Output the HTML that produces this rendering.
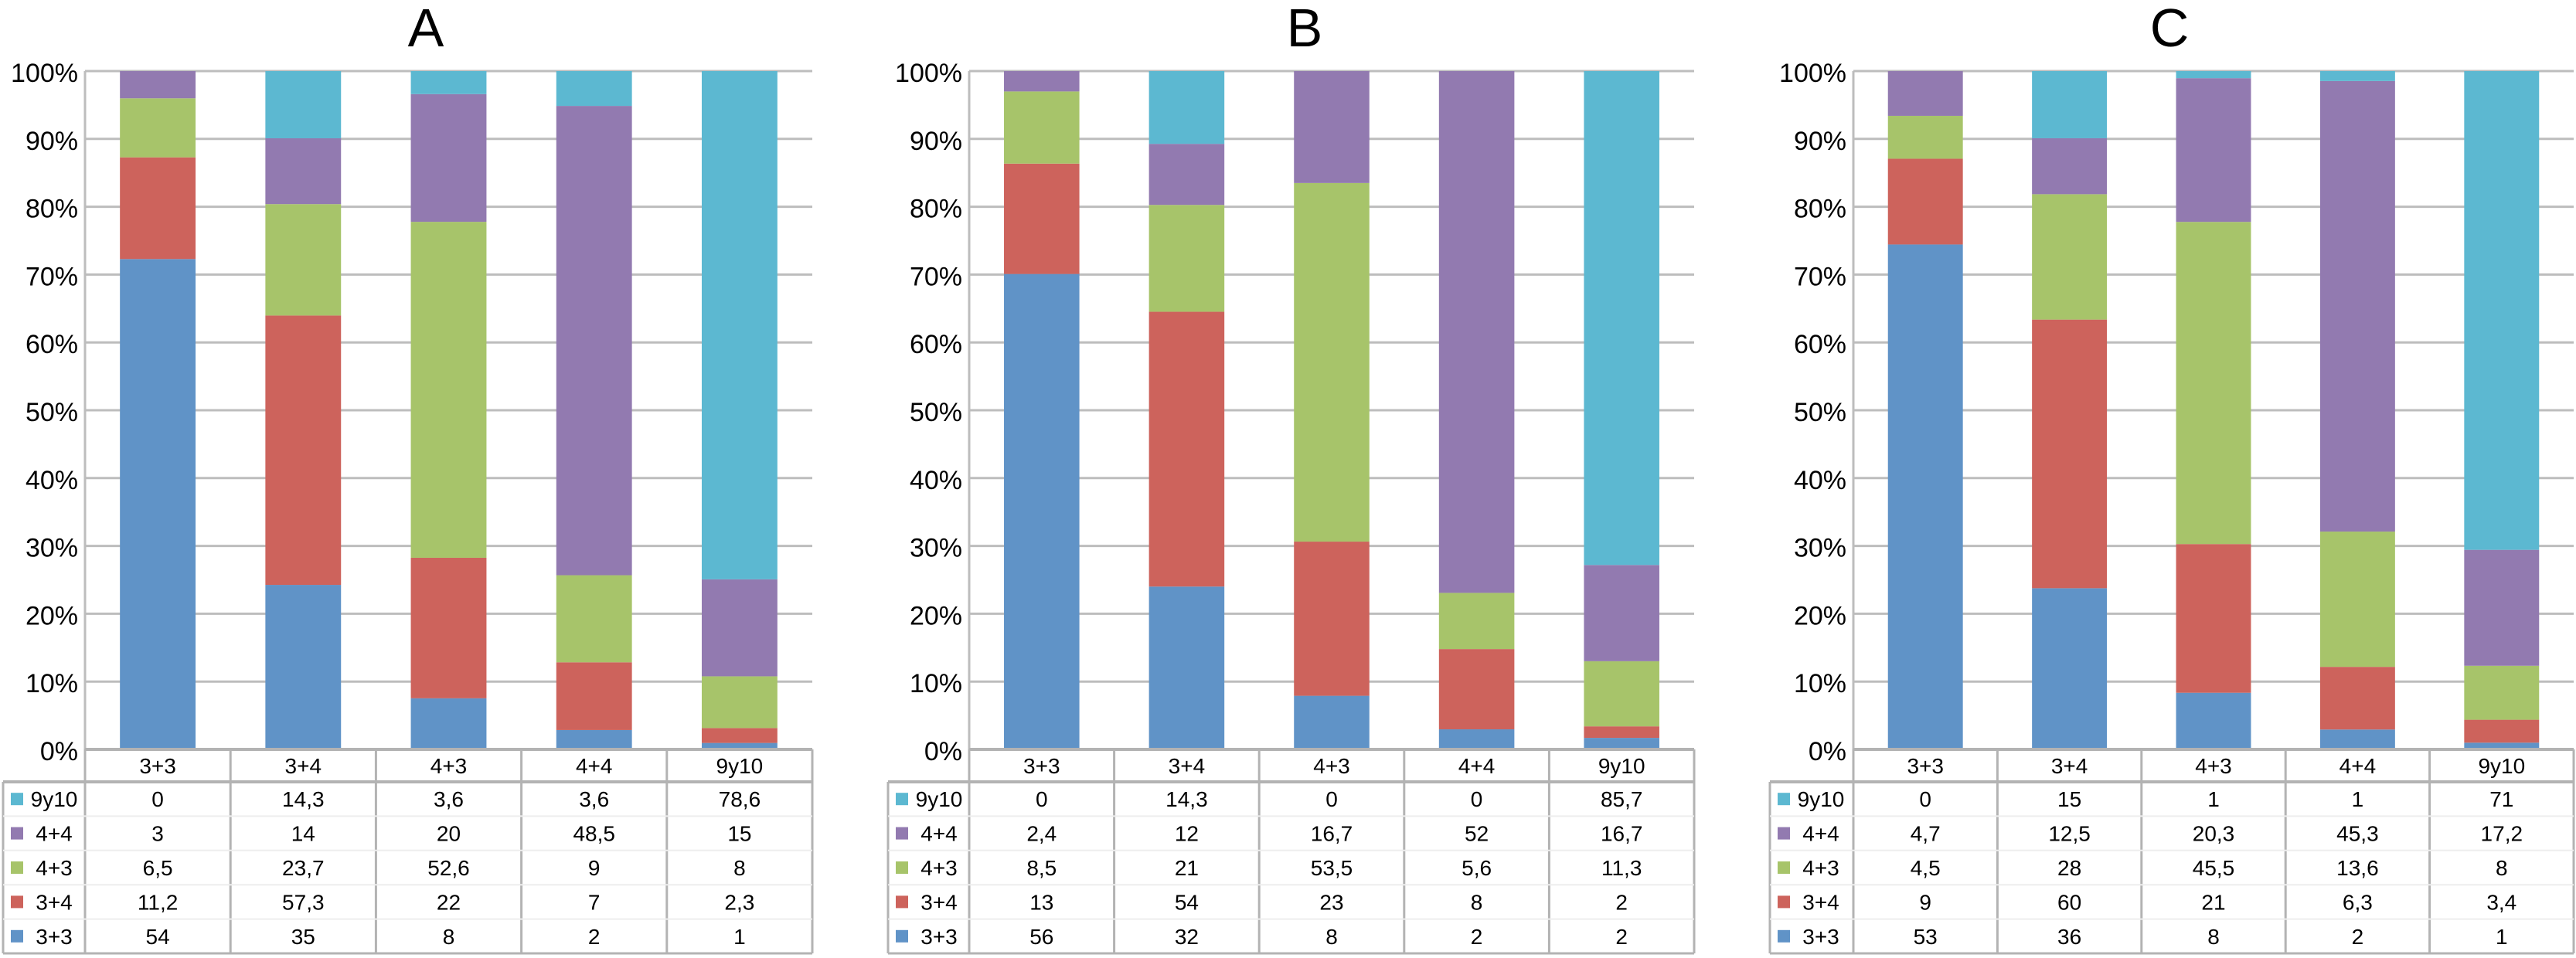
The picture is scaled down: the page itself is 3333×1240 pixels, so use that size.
<!DOCTYPE html>
<html><head><meta charset="utf-8">
<style>
html,body{margin:0;padding:0;background:#fff;}
svg{display:block;font-family:"Liberation Sans",Arial,sans-serif;}
</style></head>
<body>
<svg id="chart" width="3333" height="1240" viewBox="0 0 3333 1240" xmlns="http://www.w3.org/2000/svg"></svg>
<script>
// ---- data ----
const categories = ["3+3","3+4","4+3","4+4","9y10"];
const seriesNames = ["3+3","3+4","4+3","4+4","9y10"];
const panelTitles = ["A","B","C"];
// values per panel: [series][category]
const A_s33 = [54,35,8,2,1];
const A_s34 = [11.2,57.3,22,7,2.3];
const A_s43 = [6.5,23.7,52.6,9,8];
const A_s44 = [3,14,20,48.5,15];
const A_s910 = [0,14.3,3.6,3.6,78.6];
const A_labels = [["54","35","8","2","1"],["11,2","57,3","22","7","2,3"],["6,5","23,7","52,6","9","8"],["3","14","20","48,5","15"],["0","14,3","3,6","3,6","78,6"]];
const B_s33 = [56,32,8,2,2];
const B_s34 = [13,54,23,8,2];
const B_s43 = [8.5,21,53.5,5.6,11.3];
const B_s44 = [2.4,12,16.7,52,16.7];
const B_s910 = [0,14.3,0,0,85.7];
const B_labels = [["56","32","8","2","2"],["13","54","23","8","2"],["8,5","21","53,5","5,6","11,3"],["2,4","12","16,7","52","16,7"],["0","14,3","0","0","85,7"]];
const C_s33 = [53,36,8,2,1];
const C_s34 = [9,60,21,6.3,3.4];
const C_s43 = [4.5,28,45.5,13.6,8];
const C_s44 = [4.7,12.5,20.3,45.3,17.2];
const C_s910 = [0,15,1,1,71];
const C_labels = [["53","36","8","2","1"],["9","60","21","6,3","3,4"],["4,5","28","45,5","13,6","8"],["4,7","12,5","20,3","45,3","17,2"],["0","15","1","1","71"]];
const yTicks = ["0%","10%","20%","30%","40%","50%","60%","70%","80%","90%","100%"];

const panelData = [
  [A_s33,A_s34,A_s43,A_s44,A_s910],
  [B_s33,B_s34,B_s43,B_s44,B_s910],
  [C_s33,C_s34,C_s43,C_s44,C_s910]
];
const panelLabels = [A_labels,B_labels,C_labels];

// ---- layout ----
const colors = ["#6093c7","#cd635c","#a7c46a","#927ab0","#5cb8d1"];
const layout = [
  {legL:4, plotL:110, plotR:1051, title:551},
  {legL:1149, plotL:1254, plotR:2192, title:1688},
  {legL:2290, plotL:2398, plotR:3330, title:2807}
];
const yTop=92, yBot=970, rowH=44.4, catBot=1012;
const NS="http://www.w3.org/2000/svg";
const svg=document.getElementById("chart");
function el(tag,attrs,parent){const e=document.createElementNS(NS,tag);for(const k in attrs)e.setAttribute(k,attrs[k]);(parent||svg).appendChild(e);return e;}
function yScale(p){return yBot-(yBot-yTop)*p/100;}

panelData.forEach((series,pi)=>{
  const L=layout[pi];
  const g=el("g",{});
  
  
  const colW=(L.plotR-L.plotL)/categories.length;
  const xBand=i=>L.plotL+i*colW;
  // title
  const t=el("text",{x:L.title,y:60,"font-size":70,"text-anchor":"middle",fill:"#000"},g);
  t.textContent=panelTitles[pi];
  
  
  // gridlines + ticks
  yTicks.forEach((lab,k)=>{
    const y=yScale(k*10);
    const ln=el("line",{x1:L.plotL,x2:L.plotR,y1:y,y2:y,stroke:"#bdbdbd","stroke-width":3},g);
    
    
    const tx=el("text",{x:L.plotL-9,y:y+14,"font-size":34,"text-anchor":"end",fill:"#000"},g);
    tx.textContent=lab;
    
    
  });
  const ax=el("line",{x1:L.plotL,x2:L.plotL,y1:yTop,y2:yBot,stroke:"#bdbdbd","stroke-width":3},g);
  
  
  // bars
  categories.forEach((c,ci)=>{
    let total=0;series.forEach(s=>total+=s[ci]);
    let cum=0;
    const bw=colW*0.52, bx=xBand(ci)+(colW-bw)/2;
    series.forEach((s,si)=>{
      const v=s[ci]/total*100;
      if(v<=0){return;}
      const y1=yScale(cum+v), y0=yScale(cum);
      const r=el("rect",{x:bx,y:y1,width:bw,height:y0-y1,fill:colors[si]},g);
      
      
      cum+=v;
    });
  });
  // data table
  const tstroke="#b3b3b3";
  const tb=el("g",{},g);
  
  
  const tblBot=catBot+rowH*5;
  // category row
  el("line",{x1:L.plotL,x2:L.plotR,y1:yBot,y2:yBot,stroke:tstroke,"stroke-width":4},tb);
  el("line",{x1:L.legL,x2:L.plotR,y1:catBot,y2:catBot,stroke:tstroke,"stroke-width":4},tb);
  el("line",{x1:L.legL,x2:L.plotR,y1:tblBot,y2:tblBot,stroke:tstroke,"stroke-width":3},tb);
  el("line",{x1:L.legL,x2:L.legL,y1:catBot,y2:tblBot,stroke:tstroke,"stroke-width":3},tb);
  for(let i=0;i<=categories.length;i++){
    el("line",{x1:xBand(i),x2:xBand(i),y1:yBot,y2:tblBot,stroke:tstroke,"stroke-width":3},tb);
  }
  for(let r=1;r<5;r++){
    const y=catBot+r*rowH;
    el("line",{x1:L.legL,x2:L.plotR,y1:y,y2:y,stroke:"#eeeeee","stroke-width":2},tb);
  }
  categories.forEach((c,ci)=>{
    const tx=el("text",{x:xBand(ci)+colW/2,y:catBot-11,"font-size":28,"text-anchor":"middle",fill:"#000"},tb);
    tx.textContent=c;
    
    
  });
  // rows: top row is 9y10, bottom is 3+3
  const labs=panelLabels[pi];
  for(let r=0;r<5;r++){
    const si=4-r;
    const yc=catBot+r*rowH+rowH/2;
    const sw=el("rect",{x:L.legL+10,y:yc-8,width:16,height:16,fill:colors[si]},tb);
    
    
    const ln=el("text",{x:L.legL+66,y:yc+10,"font-size":28,"text-anchor":"middle",fill:"#000"},tb);
    ln.textContent=seriesNames[si];
    
    
    categories.forEach((c,ci)=>{
      const tx=el("text",{x:xBand(ci)+colW/2,y:yc+10,"font-size":28,"text-anchor":"middle",fill:"#000"},tb);
      tx.textContent=labs[si][ci];
      
      
    });
  }
});
</script>
</body></html>
